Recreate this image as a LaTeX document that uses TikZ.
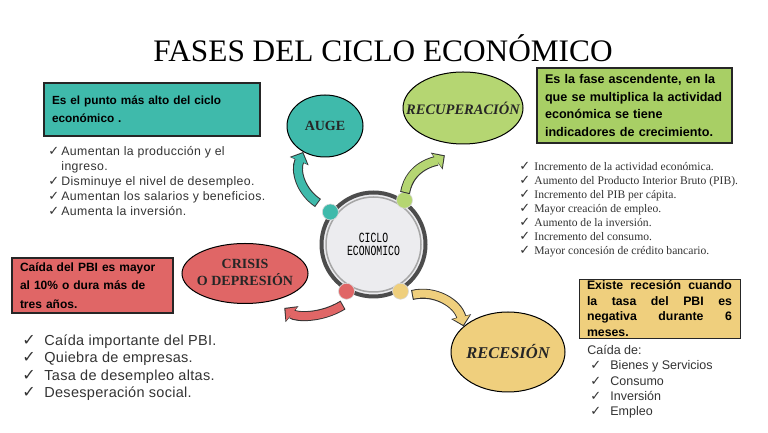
\documentclass[tikz,border=0pt]{standalone}
\usepackage{fontspec}
\setmainfont{Liberation Serif}
\setsansfont{Liberation Sans}
\newfontfamily\simbolos{DejaVu Sans}
\newfontfamily\maquina{Liberation Mono}
\usetikzlibrary{positioning, shapes.geometric, arrows.meta}

\definecolor{turquesa}{HTML}{3FBAAB}
\definecolor{verdeclaro}{HTML}{B5D672}
\definecolor{verdecaja}{HTML}{A8CF65}
\definecolor{rojo}{HTML}{E06666}
\definecolor{amarillo}{HTML}{EFCF7D}
\definecolor{gris}{HTML}{ECECEF}

\newcommand{\visto}[2][13]{\makebox[#2][l]{\simbolos\fontsize{#1}{#1}\selectfont ✓}}

\begin{document}
\begin{tikzpicture}[x=1pt, y=1pt, thick,
    fase/.style = {draw, ellipse, line width=1pt, inner sep=0pt, text=black!85},
    caja/.style = {draw=black!85, line width=1.2pt, inner sep=0pt, align=left},
    lista/.style = {anchor=north west, inner sep=0pt, align=left, text=black!80},
    punto/.style = {circle, draw=black!15, line width=0.6pt, minimum size=16pt, inner sep=0pt},
    borde/.style = {line width=10pt, draw=black!80, -{Triangle[length=10pt, width=20pt]}},
    flecha/.style = {line width=8pt, draw=#1, shorten <=1pt, shorten >=1.5pt, -{Triangle[length=8pt, width=16.5pt]}}]
  \fill[white] (0,0) rectangle (768,433);
  \useasboundingbox (0,0) rectangle (768,433);

  \node[font=\fontsize{31.3}{36}\selectfont] (titulo) at (383,385) {FASES DEL CICLO ECONÓMICO};

  % ciclo central y sus puntos
  \node[circle, draw=black!70, fill=gris, line width=4pt, minimum size=104pt, align=center,
        font=\maquina\fontsize{14}{13}\selectfont] (ciclo) at (373.5,188.5)
        {\scalebox{0.7}[1]{CICLO}\\\scalebox{0.7}[1]{ECONOMICO}};
  \draw[black!35, line width=1.5pt] (ciclo.center) circle (47.5pt);
  \node[punto, fill=turquesa] (pauge) at (ciclo.143) {};
  \node[punto, fill=verdeclaro] (precup) at (ciclo.55) {};
  \node[punto, fill=rojo] (pcrisis) at (ciclo.240) {};
  \node[punto, fill=amarillo] (precesion) at (ciclo.300) {};

  % fases
  \node[fase, fill=turquesa, minimum width=76pt, minimum height=62pt,
        font=\bfseries\fontsize{14}{16}\selectfont] (auge) at (325,307) {AUGE};
  \node[fase, fill=verdeclaro, minimum width=120pt, minimum height=72pt,
        font=\bfseries\itshape\fontsize{14.5}{16}\selectfont] (recuperacion) at (463,325) {\makebox[0pt]{RECUPERACIÓN}};
  \node[fase, fill=rojo, minimum width=126pt, minimum height=60pt,
        font=\bfseries\fontsize{14}{16}\selectfont] (crisis) at (245,159.5)
        {\makebox[0pt]{\begin{tabular}{@{}c@{}}CRISIS\\O DEPRESIÓN\end{tabular}}};
  \node[fase, fill=amarillo, minimum width=114pt, minimum height=80pt,
        font=\bfseries\itshape\fontsize{16.5}{18}\selectfont] (recesion) at (508,81) {\makebox[0pt]{RECESIÓN}};

  % flechas
  \coordinate (salidaauge) at (318,230);
  \coordinate (salidarecup) at (405,240);
  \coordinate (salidarecesion) at (412,138);
  \coordinate (salidacrisis) at (343,128);
  \draw[borde] (salidaauge) to[bend left=40] (auge.230);
  \draw[flecha=turquesa] (salidaauge) to[bend left=40] (auge.230);
  \draw[borde, shorten >=19pt] (salidarecup) to[out=80, in=215] (recuperacion.266);
  \draw[flecha=verdeclaro, shorten >=20.5pt] (salidarecup) to[out=80, in=215] (recuperacion.266);
  \draw[borde] (salidarecesion) to[bend left=45] (recesion.150);
  \draw[flecha=amarillo] (salidarecesion) to[bend left=45] (recesion.150);
  \draw[borde, shorten >=12pt] (salidacrisis) to[bend left=35] (crisis.318);
  \draw[flecha=rojo, shorten >=13.5pt] (salidacrisis) to[bend left=35] (crisis.318);

  % cajas
  \node[caja, fill=turquesa, minimum width=216pt, minimum height=53pt, text width=200pt,
        font=\sffamily\bfseries\fontsize{11.8}{18}\selectfont] (cajaauge) at (152,323.5)
        {Es el punto más alto del ciclo\\económico .};
  \node[caja, fill=verdecaja, minimum width=195pt, minimum height=75pt, text width=179pt,
        font=\sffamily\bfseries\fontsize{12.6}{17.5}\selectfont] (cajarecup) at (634.5,327.5)
        {Es la fase ascendente, en la\\que se multiplica la actividad\\económica se tiene\\indicadores de crecimiento.};
  \node[caja, fill=rojo, minimum width=161pt, minimum height=55pt, text width=145pt,
        font=\sffamily\bfseries\fontsize{12}{18.5}\selectfont] (cajacrisis) at (92.5,147.5)
        {Caída del PBI es mayor\\al 10\% o dura más de\\tres años.};
  \node[caja, fill=amarillo, line width=0.8pt, minimum width=161pt, minimum height=59pt, text width=145pt,
        font=\sffamily\bfseries\fontsize{12.3}{15.5}\selectfont] (cajarecesion) at (659.5,124.5)
        {\makebox[145pt][s]{Existe\hfill recesión\hfill cuando}\\
         \makebox[145pt][s]{la\hfill tasa\hfill del\hfill PBI\hfill es}\\
         \makebox[145pt][s]{negativa\hfill durante\hfill 6}\\meses.};

  % listas
  \node[lista, font=\sffamily\fontsize{12.3}{15}\selectfont\addfontfeatures{LetterSpace=3}] (listaauge) at (48,287)
        {\visto{13pt}Aumentan la producción y el\\
         \hspace*{13pt}ingreso.\\
         \visto{13pt}Disminuye el nivel de desempleo.\\
         \visto{13pt}Aumentan los salarios y beneficios.\\
         \visto{13pt}Aumenta la inversión.};
  \node[lista, font=\fontsize{11.6}{14}\selectfont] (listarecup) at (519,271)
        {\visto{15pt}Incremento de la actividad económica.\\
         \visto{15pt}Aumento del Producto Interior Bruto (PIB).\\
         \visto{15pt}Incremento del PIB per cápita.\\
         \visto{15pt}Mayor creación de empleo.\\
         \visto{15pt}Aumento de la inversión.\\
         \visto{15pt}Incremento del consumo.\\
         \visto{15pt}Mayor concesión de crédito bancario.};
  \node[lista, font=\sffamily\fontsize{14.5}{17.5}\selectfont\addfontfeatures{LetterSpace=2}] (listacrisis) at (22,99)
        {\visto[16]{22pt}Caída importante del PBI.\\
         \visto[16]{22pt}Quiebra de empresas.\\
         \visto[16]{22pt}Tasa de desempleo altas.\\
         \visto[16]{22pt}Desesperación social.};
  \node[lista, font=\sffamily\fontsize{12.5}{15.3}\selectfont] (listarecesion) at (587,88)
        {Caída de:\\
         \hspace*{3pt}\visto{20pt}Bienes y Servicios\\
         \hspace*{3pt}\visto{20pt}Consumo\\
         \hspace*{3pt}\visto{20pt}Inversión\\
         \hspace*{3pt}\visto{20pt}Empleo};
\end{tikzpicture}
\end{document}
